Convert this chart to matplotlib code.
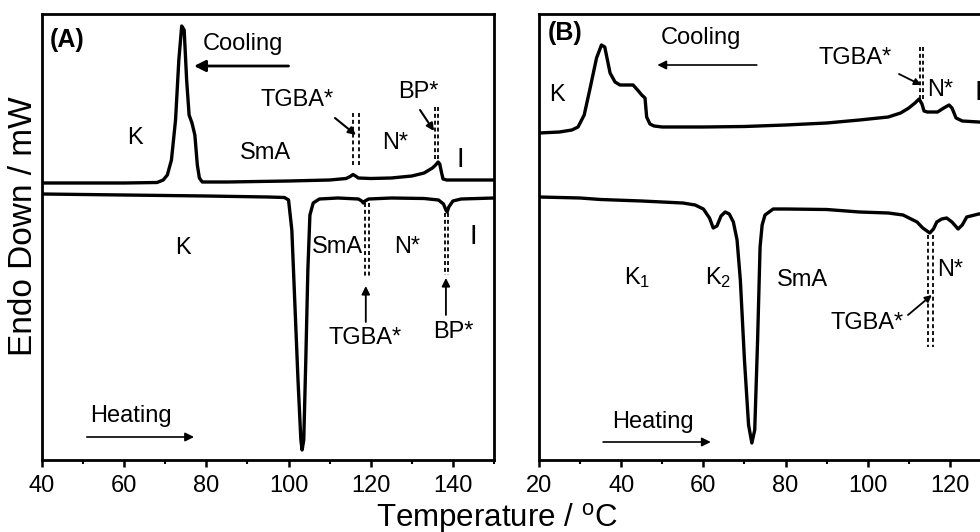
import matplotlib
matplotlib.use("Agg")
import matplotlib.pyplot as plt

plt.rcParams['font.family'] = ['Liberation Sans', 'DejaVu Sans']
plt.rcParams['mathtext.fontset'] = 'custom'
plt.rcParams['mathtext.rm'] = 'Liberation Sans'
plt.rcParams['mathtext.it'] = 'Liberation Sans'

# ---------------- data (signal in arbitrary units, endo down) ----------------
# Panel A, cooling
a_cool_T = [40, 60, 68, 69.5, 70.5, 71.5, 72.5, 73.3, 74.0, 74.6, 75.2, 75.8, 76.5,
            77.2, 77.8, 78.3, 79, 85, 100, 110, 114, 115.0, 115.7, 116.3, 117, 120, 125,
            130, 133, 135, 135.8, 136.4, 136.8, 137.2, 137.6, 138.5, 150]
a_cool_y = [277, 277, 277.5, 280, 285, 300, 340, 400, 434, 430, 380, 345, 337,
            325, 295, 282, 278, 278, 279, 280, 281.5, 283.5, 285.5, 284, 282, 281.5, 282,
            284, 287, 292, 295, 298, 296, 288, 281, 280, 280]
# Panel A, heating
a_heat_T = [40, 60, 80, 95, 99, 100, 100.8, 101.5, 102.3, 103.0, 103.3, 103.7, 104.2,
            104.7, 105.2, 106, 107.5, 112, 117, 117.8, 118.2, 118.6, 119.5, 125, 133,
            136.5, 137.7, 138.3, 138.6, 139, 140, 142, 150]
a_heat_y = [266, 265, 264, 263, 262.5, 260, 230, 160, 80, 20, 10, 20, 100,
            190, 245, 257, 261, 262, 261, 259, 257, 259, 261, 262, 261.5,
            260, 256, 250, 248, 253, 259, 261, 262]
# Panel B, cooling
b_cool_T = [20, 25, 28, 29.5, 31, 32.5, 34, 35.2, 36, 37.3, 38.5, 39.7, 41, 42.9,
            44.2, 45, 45.8, 46.2, 47, 48, 50, 60, 70, 80, 90, 98, 105, 108, 110,
            111.5, 112.5, 113.2, 113.7, 114.5, 117, 118.5, 119.8, 120.5, 121.5, 123, 127, 130]
b_cool_y = [327, 328, 330, 333, 345, 373, 402, 415, 413, 387, 378, 375, 375, 375,
            369, 365, 362, 343, 336, 334, 333, 333, 333.5, 335, 337, 340, 343, 347, 352,
            357, 361, 356, 349, 348, 348, 352, 355, 352, 342, 339, 338, 337]
# Panel B, heating
b_heat_T = [20, 30, 35, 45, 55, 58, 60, 61.5, 62.4, 63.3, 64.3, 65.3, 66.3, 67.3, 68.2,
            69, 70, 71, 71.8, 72.5, 73.2, 73.8, 74.3, 75, 77, 80, 90, 98, 105, 108.6,
            112, 113.4, 115.1, 116, 116.8, 118, 119.2, 120.5, 122, 123, 124.1, 127, 130]
b_heat_y = [263, 262, 260.5, 259, 257, 255, 251, 242, 232, 234, 244, 248, 246, 238, 220,
            180, 100, 35, 17, 30, 120, 213, 235, 245, 251, 251, 250.5, 248, 247, 245,
            238, 232, 227, 231, 238, 241, 242, 238, 231, 235, 243, 246, 247]

xlim_a = (40, 150)
xlim_b = (20, 130)
ylim = (0, 446)

# ---------------- figure ----------------
fig = plt.figure(figsize=(9.8, 5.32), dpi=100)
axA = fig.add_axes([42 / 980, 1 - 460 / 532, 452 / 980, 446 / 532])
axB = fig.add_axes([539 / 980, 1 - 460 / 532, 452 / 980, 446 / 532])

curve_lw = 2.4
for ax, xl in ((axA, xlim_a), (axB, xlim_b)):
    ax.set_xlim(*xl)
    ax.set_ylim(*ylim)
    ax.set_yticks([])
    for s in ax.spines.values():
        s.set_linewidth(2.0)
    ax.set_xticks(range(xl[0], xl[1] + 1, 20))
    ax.set_xticks(range(xl[0] + 10, xl[1] + 1, 20), minor=True)
    ax.tick_params(axis='x', which='major', direction='out', length=5, width=1.8,
                   labelsize=17, pad=6)
    ax.tick_params(axis='x', which='minor', direction='out', length=3, width=1.5)

axA.plot(a_cool_T, a_cool_y, color='black', lw=curve_lw, solid_joinstyle='round')
axA.plot(a_heat_T, a_heat_y, color='black', lw=curve_lw, solid_joinstyle='round')
axB.plot(b_cool_T, b_cool_y, color='black', lw=curve_lw, solid_joinstyle='round')
axB.plot(b_heat_T, b_heat_y, color='black', lw=curve_lw, solid_joinstyle='round')

FS = 17
dash = (0, (2.2, 1.6))


def dpair(ax, x1, x2, y0, y1):
    for x in (x1, x2):
        ax.plot([x, x], [y0, y1], color='black', lw=1.3, linestyle=dash)


def arrow(ax, xy_from, xy_to, lw=1.2, ms=14):
    ax.annotate('', xy=xy_to, xytext=xy_from,
                arrowprops=dict(arrowstyle='-|>', color='black', lw=lw,
                                mutation_scale=ms, shrinkA=0, shrinkB=0))


def txt(ax, x, y, s, fs=FS, **kw):
    ax.text(x, y, s, ha='center', va='center', fontsize=fs, **kw)


# ---- Panel A annotations ----
axA.text(41.9, 420, '(A)', ha='left', va='center', fontsize=18, fontweight='bold')
txt(axA, 88.9, 416, 'Cooling')
arrow(axA, (100.0, 394), (77.0, 394), lw=2.0, ms=17)
txt(axA, 62.6, 322, 'K')
txt(axA, 94.3, 307, 'SmA')
txt(axA, 102.0, 360, 'TGBA*')
arrow(axA, (111.3, 342), (116.4, 325), lw=1.5, ms=11)
dpair(axA, 115.7, 117.2, 347, 293)
txt(axA, 125.9, 317, 'N*')
txt(axA, 131.5, 368, 'BP*')
arrow(axA, (132.0, 350), (135.4, 329), lw=1.5, ms=11)
dpair(axA, 135.6, 136.4, 353, 300)
txt(axA, 141.7, 300, 'I', fs=20)

txt(axA, 74.3, 212, 'K')
txt(axA, 111.8, 213, 'SmA')
txt(axA, 128.8, 213, 'N*')
txt(axA, 144.9, 223, 'I', fs=20)
dpair(axA, 118.7, 119.6, 257, 183)
arrow(axA, (118.8, 138), (118.8, 174), lw=1.3, ms=12)
txt(axA, 118.6, 122, 'TGBA*')
dpair(axA, 138.0, 138.7, 247, 185)
arrow(axA, (138.3, 145), (138.3, 182), lw=1.3, ms=12)
txt(axA, 140.2, 128, 'BP*')
txt(axA, 61.7, 44, 'Heating')
arrow(axA, (50.9, 23), (77.0, 23), lw=1.2, ms=13)

# ---- Panel B annotations ----
axB.text(22.2, 427, '(B)', ha='left', va='center', fontsize=18, fontweight='bold')
txt(axB, 59.4, 422, 'Cooling')
arrow(axB, (73.0, 395), (48.8, 395), lw=1.2, ms=13)
txt(axB, 24.4, 365, 'K')
txt(axB, 96.9, 402, 'TGBA*')
arrow(axB, (107.6, 386), (113.0, 375), lw=1.3, ms=10)
dpair(axB, 112.7, 113.4, 413, 360)
txt(axB, 117.6, 370, 'N*')
txt(axB, 126.9, 367, 'I', fs=20)

txt(axB, 43.8, 182, r'K$_\mathregular{1}$')
txt(axB, 63.6, 182, r'K$_\mathregular{2}$')
txt(axB, 84.2, 180, 'SmA')
txt(axB, 120.0, 190, 'N*')
txt(axB, 99.8, 137, 'TGBA*')
arrow(axB, (109.8, 145), (115.6, 165), lw=1.3, ms=10)
dpair(axB, 114.6, 115.9, 225, 113)
txt(axB, 47.7, 38, 'Heating')
arrow(axB, (35.6, 18), (61.8, 18), lw=1.2, ms=13)

# ---- axis labels ----
fig.text(497 / 980, 1 - 527 / 532, r'Temperature / $\mathregular{^{o}}$C',
         ha='center', va='baseline', fontsize=22.5)
fig.text(23.5 / 980, 1 - 226 / 532, 'Endo Down / mW', rotation=90,
         ha='center', va='center', fontsize=24)

fig.savefig('out.png', dpi=100)
